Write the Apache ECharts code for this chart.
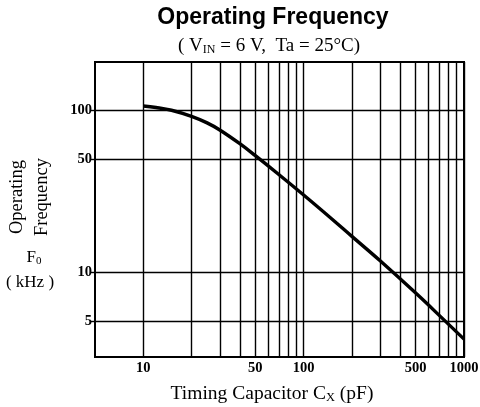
<!DOCTYPE html>
<html>
<head>
<meta charset="utf-8">
<script src="https://cdn.jsdelivr.net/npm/echarts@6.0.0/dist/echarts.min.js"></script>
<style>
html,body{margin:0;padding:0;background:#fff;}
#main{width:480px;height:407px;}
</style>
</head>
<body>
<div id="main"></div>
<script>
// timing capacitor (pF) and operating frequency (kHz)
var capValues = [10, 12, 15, 20, 25, 30, 40, 50, 70, 100, 150, 200, 300, 500, 750, 1000];
var freqValues = [107, 104.7, 100.6, 92.3, 84.1, 76, 62.5, 52.7, 40.3, 30.1, 21.4, 16.7, 11.8, 7.45, 5.09, 3.87];

// grid lines and tick labels
var xGridValues = [10, 20, 30, 40, 50, 60, 70, 80, 90, 100, 200, 300, 400, 500, 600, 700, 800, 900, 1000];
var xLabelValues = [10, 50, 100, 500, 1000];
var yGridValues = [5, 10, 50, 100];
var yLabelValues = [5, 10, 50, 100];

var curve = [];
capValues.forEach(function (c, i) {
    curve.push([c, freqValues[i]]);
});

var serif = '"Liberation Serif", "DejaVu Serif", serif';

var myChart = echarts.init(document.getElementById('main'));

var option = {
    backgroundColor: '#fff',
    animation: false,
    grid: {
        left: 95,
        top: 62,
        right: 16,
        bottom: 50,
        outerBoundsMode: 'none',
        show: true,
        borderColor: '#000',
        borderWidth: 2
    },
    xAxis: {
        type: 'log',
        logBase: 10,
        min: 5,
        max: 1000,
        axisLine: {show: true, lineStyle: {color: '#000', width: 2}},
        axisTick: {show: false, customValues: xGridValues},
        splitLine: {show: true, lineStyle: {color: '#000', width: 1.4}},
        axisLabel: {
            customValues: xLabelValues,
            formatter: function (v) { return String(v); },
            color: '#000',
            fontFamily: serif,
            fontWeight: 'bold',
            fontSize: 14.5,
            margin: 4
        }
    },
    yAxis: {
        type: 'log',
        logBase: 10,
        min: 3,
        max: 200,
        axisLine: {show: true, lineStyle: {color: '#000', width: 2}},
        axisTick: {show: true, length: 4, customValues: yGridValues, lineStyle: {color: '#000', width: 1.4}},
        splitLine: {show: true, lineStyle: {color: '#000', width: 1.4}},
        axisLabel: {
            customValues: yLabelValues,
            formatter: function (v) { return String(v); },
            color: '#000',
            fontFamily: serif,
            fontWeight: 'bold',
            fontSize: 14.5,
            margin: 3
        }
    },
    graphic: [{
        type: 'text',
        x: 273,
        y: 18,
        style: {
            text: 'Operating Frequency',
            font: 'bold 23px "Liberation Sans", Arial, sans-serif',
            fill: '#000',
            align: 'center',
            verticalAlign: 'middle'
        }
    }, {
        type: 'text',
        x: 269,
        y: 46,
        style: {
            text: '( V{sub|IN} = 6 V,  Ta = 25°C)',
            font: '19px ' + serif,
            fill: '#000',
            align: 'center',
            verticalAlign: 'middle',
            rich: {
                sub: {fontFamily: serif, fontSize: 12, verticalAlign: 'bottom', padding: [7, 0, 0, 0]}
            }
        }
    }, {
        type: 'text',
        x: 30,
        y: 197,
        rotation: Math.PI / 2,
        style: {
            text: 'Operating\nFrequency',
            font: '18.5px ' + serif,
            fill: '#000',
            align: 'center',
            verticalAlign: 'middle',
            lineHeight: 25
        }
    }, {
        type: 'text',
        x: 34,
        y: 258,
        style: {
            text: 'F{sub|0}',
            font: '17px ' + serif,
            fill: '#000',
            align: 'center',
            verticalAlign: 'middle',
            rich: {sub: {fontFamily: serif, fontSize: 11, verticalAlign: 'bottom', padding: [5, 0, 0, 0]}}
        }
    }, {
        type: 'text',
        x: 30,
        y: 283,
        style: {
            text: '( kHz )',
            font: '17px ' + serif,
            fill: '#000',
            align: 'center',
            verticalAlign: 'middle'
        }
    }, {
        type: 'text',
        x: 272,
        y: 394,
        style: {
            text: 'Timing Capacitor C{sub|X} (pF)',
            font: '19.5px ' + serif,
            fill: '#000',
            align: 'center',
            verticalAlign: 'middle',
            rich: {
                sub: {fontFamily: serif, fontSize: 12.5, verticalAlign: 'bottom', padding: [6, 0, 0, 0]}
            }
        }
    }],
    series: [{
        type: 'line',
        data: curve,
        smooth: 0.4,
        showSymbol: false,
        lineStyle: {color: '#000', width: 3.4}
    }]
};

myChart.setOption(option);
</script>
</body>
</html>
